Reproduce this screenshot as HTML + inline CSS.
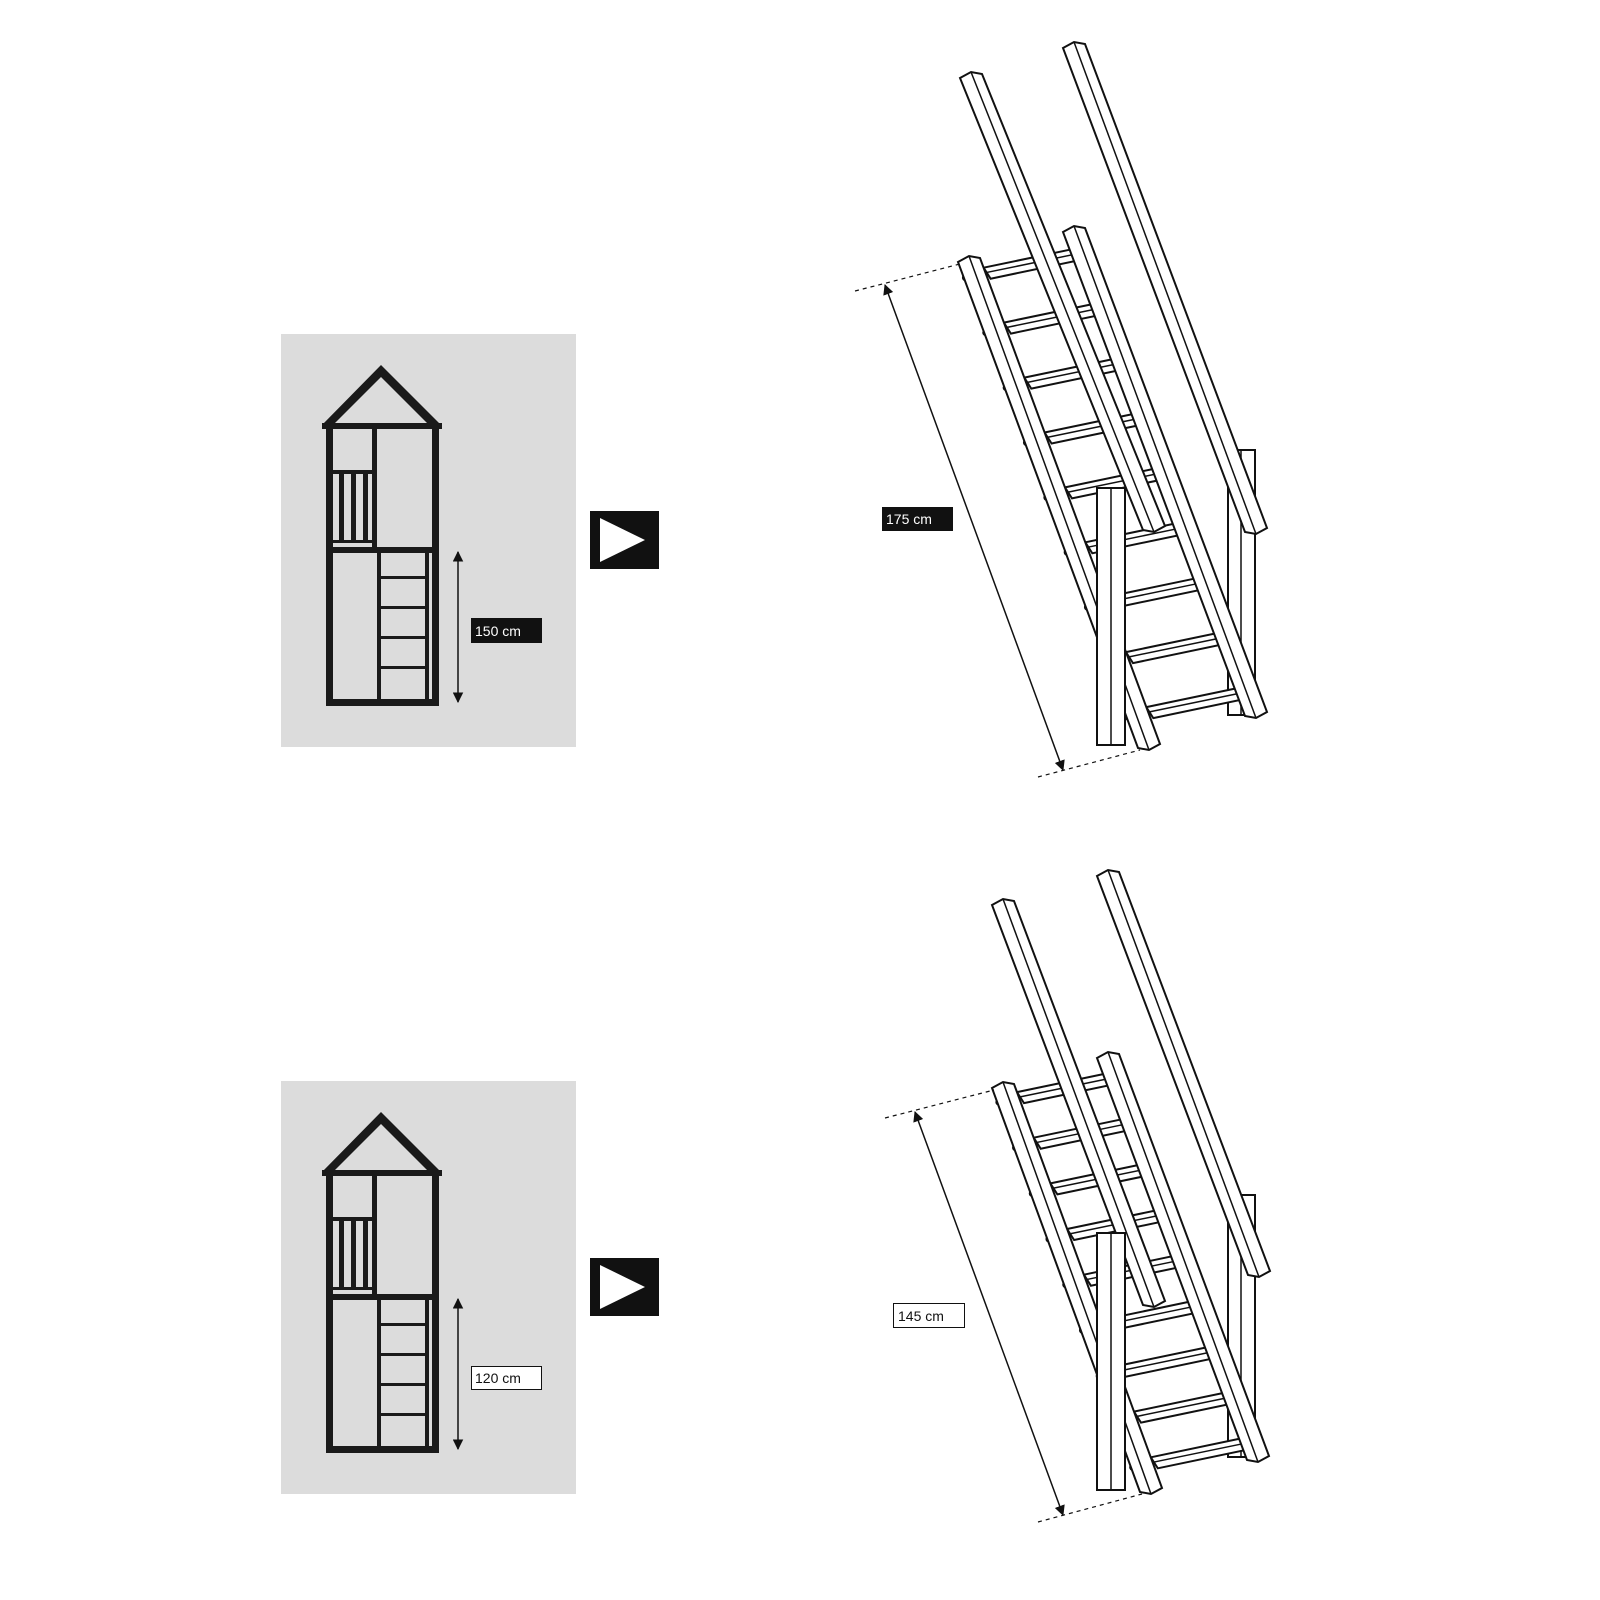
<!DOCTYPE html>
<html><head><meta charset="utf-8"><style>
html,body{margin:0;padding:0;background:#fff;}
svg{display:block}
text{font-family:"Liberation Sans",sans-serif;font-size:14px}
</style></head><body>
<svg width="1600" height="1600" viewBox="0 0 1600 1600" xmlns="http://www.w3.org/2000/svg">
<defs>
<marker id="ar" viewBox="0 0 10 10" refX="9" refY="5" markerWidth="7" markerHeight="7" orient="auto-start-reverse"><path d="M0,0 L10,5 L0,10 z" fill="#111"/></marker>
<g id="tr">
<polygon points="0,0 91,-19 98,-8 7,11" fill="#fff" stroke="#111" stroke-width="2"/>
<line x1="2" y1="5" x2="94" y2="-14" stroke="#111" stroke-width="1.5"/>
<circle cx="97" cy="-8" r="3.5" fill="#fff" stroke="#111" stroke-width="1.3"/>
<circle cx="-18" cy="10" r="3" fill="#fff" stroke="#111" stroke-width="1.3"/>
</g>
</defs>
<g id="house1">
<rect x="281" y="334" width="295" height="413" fill="#dcdcdc"/>
<polygon points="381,365 322,425 328,430 381,377 434,430 441,425" fill="#1a1a1a"/>
<rect x="322" y="423" width="120" height="6" fill="#1a1a1a"/>
<rect x="326" y="423" width="7" height="283" fill="#1a1a1a"/>
<rect x="432" y="423" width="7" height="283" fill="#1a1a1a"/>
<rect x="372" y="423" width="5" height="127" fill="#1a1a1a"/>
<rect x="333" y="547" width="99" height="6" fill="#1a1a1a"/>
<rect x="333" y="470" width="39" height="4" fill="#1a1a1a"/>
<rect x="339" y="474" width="5" height="68" fill="#1a1a1a"/>
<rect x="351" y="474" width="5" height="68" fill="#1a1a1a"/>
<rect x="363" y="474" width="5" height="68" fill="#1a1a1a"/>
<rect x="333" y="540" width="39" height="3" fill="#1a1a1a"/>
<rect x="377" y="553" width="4" height="150" fill="#1a1a1a"/>
<rect x="425" y="553" width="4" height="150" fill="#1a1a1a"/>
<rect x="381" y="576" width="44" height="3" fill="#1a1a1a"/>
<rect x="381" y="606" width="44" height="3" fill="#1a1a1a"/>
<rect x="381" y="636" width="44" height="3" fill="#1a1a1a"/>
<rect x="381" y="666" width="44" height="3" fill="#1a1a1a"/>
<rect x="333" y="699" width="99" height="7" fill="#1a1a1a"/>
<line x1="458" y1="552" x2="458" y2="702" stroke="#111" stroke-width="1.5" marker-start="url(#ar)" marker-end="url(#ar)"/>
<rect x="590" y="511" width="69" height="58" fill="#111"/>
<polygon points="600,518 600,562 645,540" fill="#fff"/>
</g>
<rect x="471" y="618" width="71" height="25" fill="#111"/>
<text x="475" y="636" fill="#fff">150 cm</text>
<use href="#house1" transform="translate(0,747)"/>
<rect x="471.5" y="1366.5" width="70" height="23" fill="#fff" stroke="#111"/>
<text x="475" y="1383" fill="#111">120 cm</text>

<!-- TOP STAIRS -->
<g stroke="#111" stroke-width="2" fill="#fff">
<rect x="1228" y="450" width="27" height="265"/>
<line x1="1241" y1="450" x2="1241" y2="715" stroke-width="1.5"/>
</g>
<use href="#tr" x="983.6" y="267.7"/>
<use href="#tr" x="1003.9" y="322.6"/>
<use href="#tr" x="1024.3" y="377.6"/>
<use href="#tr" x="1044.6" y="432.5"/>
<use href="#tr" x="1065" y="487.4"/>
<use href="#tr" x="1085.3" y="542.3"/>
<use href="#tr" x="1105.6" y="597.2"/>
<use href="#tr" x="1126" y="652.1"/>
<use href="#tr" x="1146.3" y="707.1"/>
<g stroke="#111" fill="#fff">
<polygon points="1063,232 1074,226 1085,228 1267,712 1256,718 1245,716" stroke-width="2"/>
<line x1="1074" y1="226" x2="1256" y2="718" stroke-width="1.5"/>
<polygon points="958,262 969,256 980,258 1160,744 1149,750 1138,748" stroke-width="2"/>
<line x1="969" y1="256" x2="1149" y2="750" stroke-width="1.5"/>
<polygon points="1063,48 1074,42 1085,44 1267,528 1256,534 1245,532" stroke-width="2"/>
<line x1="1074" y1="42" x2="1256" y2="534" stroke-width="1.5"/>
<polygon points="960,78 971,72 982,74 1165,526 1154,532 1143,530" stroke-width="2"/>
<line x1="971" y1="72" x2="1154" y2="532" stroke-width="1.5"/>
<rect x="1097" y="488" width="28" height="257" stroke-width="2"/>
<line x1="1111" y1="488" x2="1111" y2="745" stroke-width="1.5"/>
</g>
<line x1="885" y1="285" x2="1063" y2="770" stroke="#111" stroke-width="1.5" marker-start="url(#ar)" marker-end="url(#ar)"/>
<line x1="855" y1="291" x2="960" y2="264" stroke="#111" stroke-width="1.2" stroke-dasharray="4,4"/>
<line x1="1038" y1="777" x2="1140" y2="750" stroke="#111" stroke-width="1.2" stroke-dasharray="4,4"/>

<!-- BOTTOM STAIRS -->
<g stroke="#111" stroke-width="2" fill="#fff">
<rect x="1228" y="1195" width="27" height="262"/>
<line x1="1241" y1="1195" x2="1241" y2="1457" stroke-width="1.5"/>
</g>
<use href="#tr" x="1017" y="1092.1"/>
<use href="#tr" x="1033.7" y="1137.7"/>
<use href="#tr" x="1050.4" y="1183.4"/>
<use href="#tr" x="1067.1" y="1229"/>
<use href="#tr" x="1083.9" y="1274.7"/>
<use href="#tr" x="1100.6" y="1320.3"/>
<use href="#tr" x="1117.3" y="1366"/>
<use href="#tr" x="1134" y="1411.6"/>
<use href="#tr" x="1150.8" y="1457.3"/>
<g stroke="#111" fill="#fff">
<polygon points="1097,1058 1108,1052 1119,1054 1269,1456 1258,1462 1247,1460" stroke-width="2"/>
<line x1="1108" y1="1052" x2="1258" y2="1462" stroke-width="1.5"/>
<polygon points="992,1088 1003,1082 1014,1084 1162,1488 1151,1494 1140,1492" stroke-width="2"/>
<line x1="1003" y1="1082" x2="1151" y2="1494" stroke-width="1.5"/>
<polygon points="1097,876 1108,870 1119,872 1270,1271 1259,1277 1248,1275" stroke-width="2"/>
<line x1="1108" y1="870" x2="1259" y2="1277" stroke-width="1.5"/>
<polygon points="992,905 1003,899 1014,901 1165,1301 1154,1307 1143,1305" stroke-width="2"/>
<line x1="1003" y1="899" x2="1154" y2="1307" stroke-width="1.5"/>
<rect x="1097" y="1233" width="28" height="257" stroke-width="2"/>
<line x1="1111" y1="1233" x2="1111" y2="1490" stroke-width="1.5"/>
</g>
<line x1="915" y1="1112" x2="1063" y2="1515" stroke="#111" stroke-width="1.5" marker-start="url(#ar)" marker-end="url(#ar)"/>
<line x1="885" y1="1118" x2="994" y2="1090" stroke="#111" stroke-width="1.2" stroke-dasharray="4,4"/>
<line x1="1038" y1="1522" x2="1142" y2="1494" stroke="#111" stroke-width="1.2" stroke-dasharray="4,4"/>

<rect x="882" y="507" width="71" height="24" fill="#111"/>
<text x="886" y="524" fill="#fff">175 cm</text>
<rect x="893.5" y="1303.5" width="71" height="24" fill="#fff" stroke="#111"/>
<text x="898" y="1321" fill="#111">145 cm</text>
</svg>
</body></html>
